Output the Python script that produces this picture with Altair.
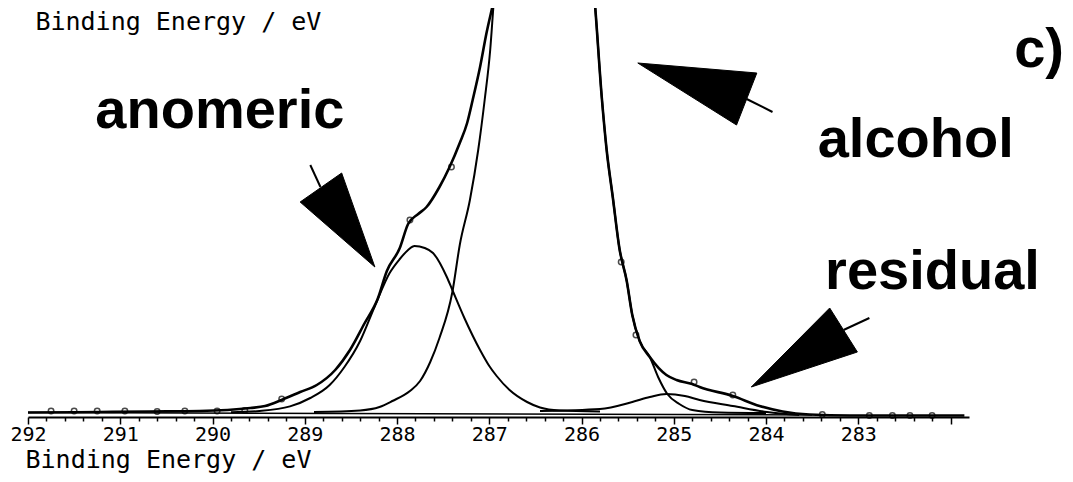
import altair as alt
import pandas as pd

# Binding energy (eV) and intensity (arbitrary units)
env_E = [292.00, 291.22, 290.68, 290.14, 289.59, 289.43, 289.24, 289.05, 288.87, 288.67,
         288.51, 288.35, 288.21, 288.11, 287.97, 287.88, 287.77, 287.68, 287.54, 287.43,
         287.32, 287.24, 287.18, 287.10, 287.03, 286.95, 286.43, 285.86, 285.78, 285.73,
         285.66, 285.59, 285.51, 285.45, 285.37, 285.26, 285.08, 284.97, 284.80, 284.72,
         284.36, 284.07, 283.82, 283.53, 283.09, 282.55, 281.85]
env_I = [4.5, 5, 5.5, 6, 9, 11, 17.5, 25, 32, 47,
         67, 94, 118, 146, 169, 193, 203, 210, 230, 250,
         274, 294, 317, 350, 384, 417, 720, 419, 319, 269,
         219, 169, 136, 102, 76, 60, 42, 37, 33, 30,
         21, 11, 5.5, 2.5, 1.5, 1.5, 1.5]

main_E = [288.90, 288.40, 288.19, 288.05, 287.86, 287.75, 287.64, 287.54, 287.40, 287.32,
          287.21, 287.12, 287.05, 286.99, 286.95, 286.43, 285.86, 285.78, 285.73, 285.66,
          285.59, 285.51, 285.45, 285.37, 285.26, 285.17, 285.07, 284.94, 284.80, 284.50, 284.00]
main_I = [5, 6.6, 10, 16, 26, 36, 55, 79, 125, 172,
          217, 267, 317, 367, 417, 720, 419, 319, 269, 219,
          169, 136, 102, 76, 60, 40, 23, 13, 7, 4.5, 4]

ano_E = [289.80, 289.49, 289.16, 288.94, 288.73, 288.57, 288.40, 288.24, 288.08, 287.97,
         287.88, 287.81, 287.70, 287.61, 287.46, 287.40, 287.27, 287.10, 287.00, 286.92,
         286.78, 286.59, 286.45, 286.24, 285.80]
ano_I = [4.8, 6, 10.6, 19, 32, 50, 76, 111, 144, 158,
         167, 171, 169, 164, 140, 127, 99, 67, 51, 41,
         27, 15, 9.5, 6.5, 5.5]

res_E = [286.45, 285.80, 285.45, 285.26, 285.08, 284.88, 284.72, 284.36, 283.99, 283.64]
res_I = [6, 8, 15, 20, 23, 21, 17, 11, 5, 2]

bg_E = [292.0, 283.5]
bg_I = [4.5, 2.0]

pts_E = [291.75, 291.50, 291.25, 290.95, 290.60, 290.30, 289.95, 289.65, 289.25, 287.86,
         287.41, 285.57, 285.41, 284.78, 284.36, 283.39, 282.88, 282.63, 282.44, 282.20]
pts_I = [6, 6, 6, 6, 5.5, 6, 6, 6.5, 18, 197,
         250, 155, 82, 35, 22, 2.5, 1.5, 1.5, 1.5, 1.5]

# arrow heads (tip, corner, corner, tip) and tails
arrow_name = ["anomeric"] * 4 + ["alcohol"] * 4 + ["residual"] * 4
arrow_E = [288.24, 289.05, 288.60, 288.24,
           285.39, 284.10, 284.32, 285.39,
           284.16, 283.31, 283.01, 284.16]
arrow_I = [150, 215, 244, 150,
           354, 344, 292, 354,
           30, 109, 65, 30]
tail_name = ["anomeric", "anomeric", "alcohol", "alcohol", "residual", "residual"]
tail_E = [288.83, 288.94, 284.21, 283.93, 283.16, 282.88]
tail_I = [230, 252, 318, 305, 87, 99]

label_text = ["anomeric", "alcohol", "residual", "c)"]
label_E = [291.27, 283.44, 283.36, 281.31]
label_I = [289, 260, 128, 350]

all_ticks = [round(282 + 0.2 * i, 1) for i in range(51)]

AXIS_TITLE = "Binding Energy / eV"

def frame(E, I, name):
    return pd.DataFrame({"E": E, "I": I, "series": name})

comp_df = pd.concat([frame(main_E, main_I, "alcohol"),
                     frame(ano_E, ano_I, "anomeric"),
                     frame(res_E, res_I, "residual")])
env_df = frame(env_E, env_I, "envelope")
bg_df = frame(bg_E, bg_I, "background")
pts_df = frame(pts_E, pts_I, "data")
arrow_df = pd.DataFrame({"E": arrow_E, "I": arrow_I, "series": arrow_name,
                         "k": list(range(len(arrow_E)))})
tail_df = pd.DataFrame({"E": tail_E, "I": tail_I, "series": tail_name,
                        "k": list(range(len(tail_E)))})
label_df = pd.DataFrame({"E": label_E, "I": label_I, "text": label_text})
top_df = pd.DataFrame({"E": [291.92], "I": [387], "text": [AXIS_TITLE]})

xscale = alt.Scale(domain=[292, 281.8], nice=False, zero=False)
yscale = alt.Scale(domain=[0, 409], nice=False, zero=False)

x_axis = alt.Axis(
    values=all_ticks,
    labelExpr="(datum.value % 1 === 0 && datum.value >= 283) ? format(datum.value, 'd') : ''",
    tickSize={"condition": {"test": "datum.value % 1 === 0", "value": 7}, "value": 4},
    tickColor="black", tickWidth=1.5,
    domainColor="black", domainWidth=1.8,
    labelFont="DejaVu Sans Mono", labelFontSize=20, labelColor="black",
    labelPadding=0, labelFlush=False, labelOverlap=False,
    grid=False,
    title=AXIS_TITLE, titleFont="DejaVu Sans Mono", titleFontSize=25,
    titleFontWeight="normal", titleColor="black",
    titleAnchor="start", titleAlign="left", titleBaseline="alphabetic",
    titleX=-3, titleY=50,
)

X = alt.X("E:Q", scale=xscale, axis=x_axis)
Y = alt.Y("I:Q", scale=yscale, axis=None)
ORD = alt.Order("E:Q", sort="descending")

bg = alt.Chart(bg_df).mark_line(color="black", strokeWidth=1.5).encode(x=X, y=Y)
comps = alt.Chart(comp_df).mark_line(color="black", strokeWidth=2, interpolate="monotone", clip=True).encode(
    x=X, y=Y, detail="series:N", order=ORD)
env = alt.Chart(env_df).mark_line(color="black", strokeWidth=2.6, interpolate="monotone", clip=True).encode(
    x=X, y=Y, order=ORD)
pts = alt.Chart(pts_df).mark_point(shape="circle", size=30, filled=False, color="black",
                                  strokeWidth=1.5).encode(x=X, y=Y)
heads = alt.Chart(arrow_df).mark_line(filled=True, fill="black", stroke="black", strokeWidth=1).encode(
    x=X, y=Y, detail="series:N", order="k:Q")
tails = alt.Chart(tail_df).mark_line(color="black", strokeWidth=2).encode(
    x=X, y=Y, detail="series:N", order="k:Q")
labels = alt.Chart(label_df).mark_text(font="Liberation Sans", fontWeight="bold", fontSize=56,
                                       align="left", baseline="alphabetic", color="black").encode(
    x=X, y=Y, text="text:N")
top_title = alt.Chart(top_df).mark_text(font="DejaVu Sans Mono", fontSize=25, align="left",
                                        baseline="alphabetic", color="black").encode(
    x=X, y=Y, text="text:N")

chart = alt.layer(bg, comps, env, pts, heads, tails, labels, top_title).properties(
    width=941, height=409,
    autosize=alt.AutoSizeParams(type="none"),
    padding={"left": 20, "top": 0, "right": 96, "bottom": 60},
    background="white",
).configure_view(stroke=None)

chart.save("out.html", embed_options={"renderer": "svg", "actions": False})
